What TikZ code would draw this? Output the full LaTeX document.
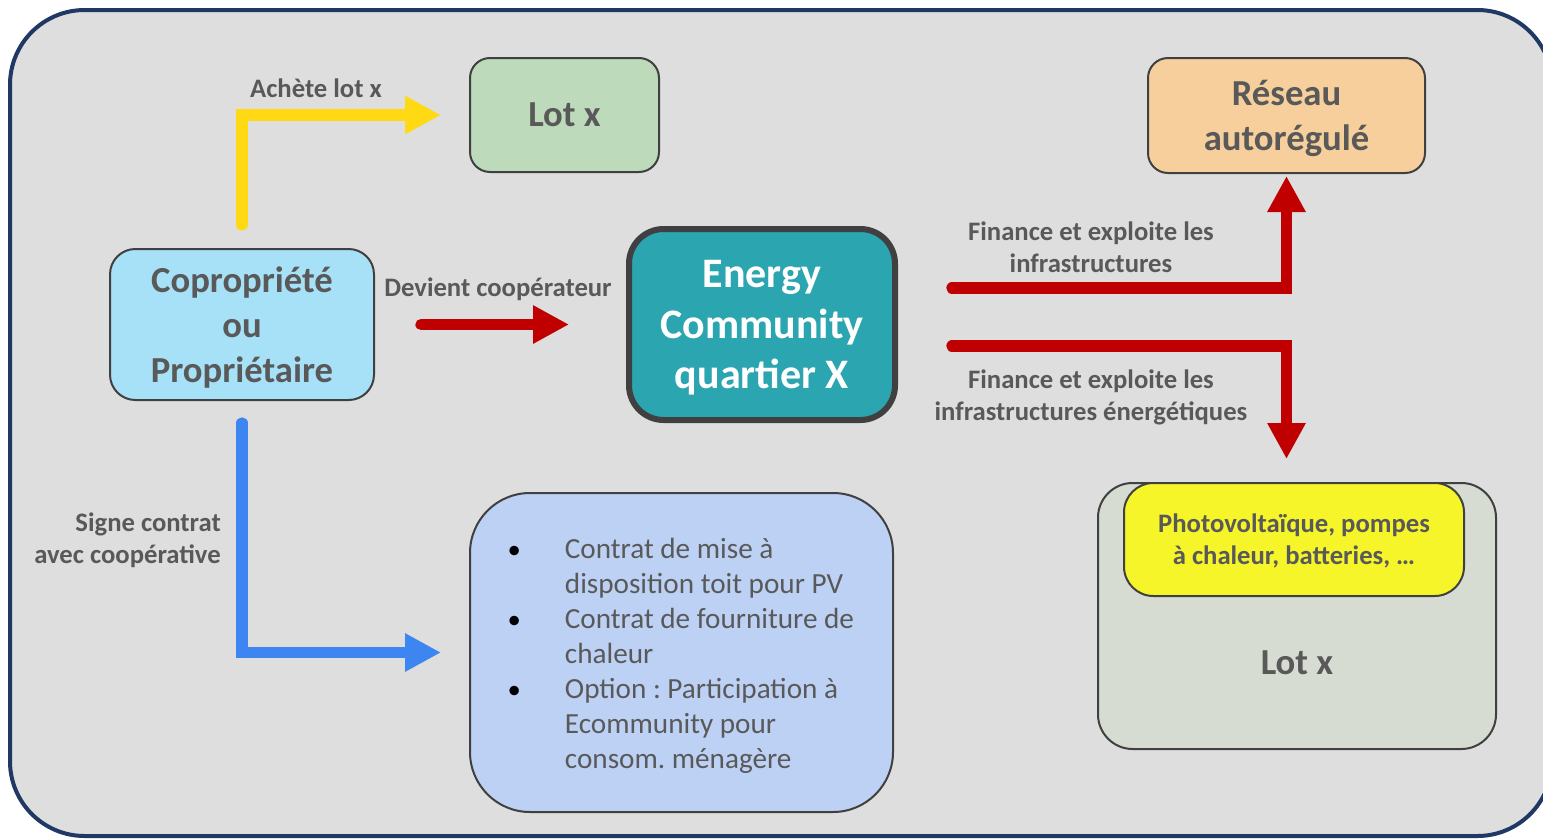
\documentclass[tikz,border=0pt]{standalone}
\usepackage{fontspec}
\setmainfont{Carlito}
\frenchspacing
\usetikzlibrary{arrows.meta}
\definecolor{marine}{RGB}{31,56,100}
\definecolor{fond}{RGB}{222,222,222}
\definecolor{bord}{RGB}{64,64,64}
\definecolor{gristexte}{RGB}{89,89,89}
\definecolor{vert}{RGB}{189,218,187}
\definecolor{orange}{RGB}{247,207,156}
\definecolor{cyan}{RGB}{166,225,247}
\definecolor{sarcelle}{RGB}{43,165,176}
\definecolor{bleuclair}{RGB}{189,209,245}
\definecolor{grisvert}{RGB}{214,220,210}
\definecolor{jaune}{RGB}{245,245,42}
\definecolor{rouge}{RGB}{192,0,0}
\definecolor{jaunefl}{RGB}{255,217,20}
\definecolor{bleufl}{RGB}{61,133,240}
\newcommand{\px}{0.75pt}
\newcommand{\puce}{\makebox[42pt][l]{\hspace{-1pt}\textcolor{black}{\fontsize{20}{20}\selectfont•}}}
\newcommand{\boite}[7]{\node[boite,#6,minimum width=#4*\px,minimum height=#5*\px] (#1) at (#2,#3) {#7};}
\newcommand{\etiquette}[4]{\node[etiq,#3] (#1) at (#2) {#4};}
\tikzset{
  boite/.style={draw=bord,line width=1.5pt,inner sep=0pt,align=center,text depth=0pt,text=gristexte,font=\bfseries\fontsize{27.5}{34}\selectfont},
  etiq/.style={inner sep=0pt,align=center,text=gristexte,font=\bfseries\fontsize{20}{24}\selectfont},
  fleche/.style={line width=8.5pt,line cap=round,-{Triangle[length=27pt,width=27pt]}},
}
\begin{document}
\begin{tikzpicture}[x=0.75pt,y=-0.75pt]
    \useasboundingbox (0,0) rectangle (1543,839); \fill[white] (0,0) rectangle (1543,839);
    \draw[fill=fond,draw=marine,line width=3pt,rounded corners=56pt] (10,10) rectangle (1552,836);
    \boite{lotA}{564.5}{115}{189}{114}{fill=vert,rounded corners=15pt}{Lot x}
    \boite{reseau}{1286.5}{115.5}{277}{115}{fill=orange,rounded corners=15pt}{Réseau\\autorégulé}
    \boite{copro}{242}{324.5}{264}{151}{fill=cyan,rounded corners=19pt}{Copropriété\\ou\\Propriétaire}
    \boite{ec}{762}{324.5}{266}{191}{fill=sarcelle,line width=4.5pt,rounded corners=26pt,text=white,font=\bfseries\fontsize{31.5}{38}\selectfont}{Energy\\Community\\quartier X}
    \boite{contrat}{681.5}{652.5}{423}{319}{fill=bleuclair,rounded corners=45pt,text depth={},font=\fontsize{21.9}{26.25}\selectfont}{%
      \raisebox{-3pt}[\height][\depth]{\begin{tabular}{@{}l@{}l@{}}
      \puce & Contrat de mise à\\
      & disposition toit pour PV\\
      \puce & Contrat de fourniture de\\
      & chaleur\\
      \puce & Option : Participation à\\
      & Ecommunity pour\\
      & consom. ménagère
      \end{tabular}}}
    \boite{lotB}{1297}{616}{398}{266}{fill=grisvert,rounded corners=26pt}{}
    \node[etiq,font=\bfseries\fontsize{27.5}{34}\selectfont] (lotBtexte) at (1297,663) {Lot x};
    \boite{pv}{1294}{539.5}{340}{113}{fill=jaune,rounded corners=22pt,font=\bfseries\fontsize{20}{24}\selectfont}{Photovoltaïque, pompes\\à chaleur, batteries, …}
    \etiquette{achete}{316,88}{}{Achète lot x}
    \etiquette{devient}{498,289}{}{Devient coopérateur}
    \etiquette{financeA}{1091,247}{}{Finance et exploite les\\infrastructures}
    \etiquette{financeB}{1091,397}{}{Finance et exploite les\\infrastructures énergétiques}
    \etiquette{signe}{221,540}{anchor=east,align=right}{Signe contrat\\avec coopérative}
    \draw[fleche,draw=jaunefl,shorten <=17.25pt,shorten >=21pt] (copro.north) |- (lotA.west);
    \draw[fleche,draw=rouge,shorten <=34.5pt,shorten >=42.75pt] (copro.east) -- (ec.west);
    \draw[fleche,draw=rouge,shorten <=40.5pt,shorten >=1.5pt] ([yshift=27.4pt]ec.east) -| (reseau.south);
    \draw[fleche,draw=rouge,shorten <=40.5pt,shorten >=17.25pt] ([yshift=-16.1pt]ec.east) -| (lotB.north -| reseau.south);
    \draw[fleche,draw=bleufl,shorten <=16.5pt,shorten >=21pt] (copro.south) |- (contrat.west);
\end{tikzpicture}
\end{document}
